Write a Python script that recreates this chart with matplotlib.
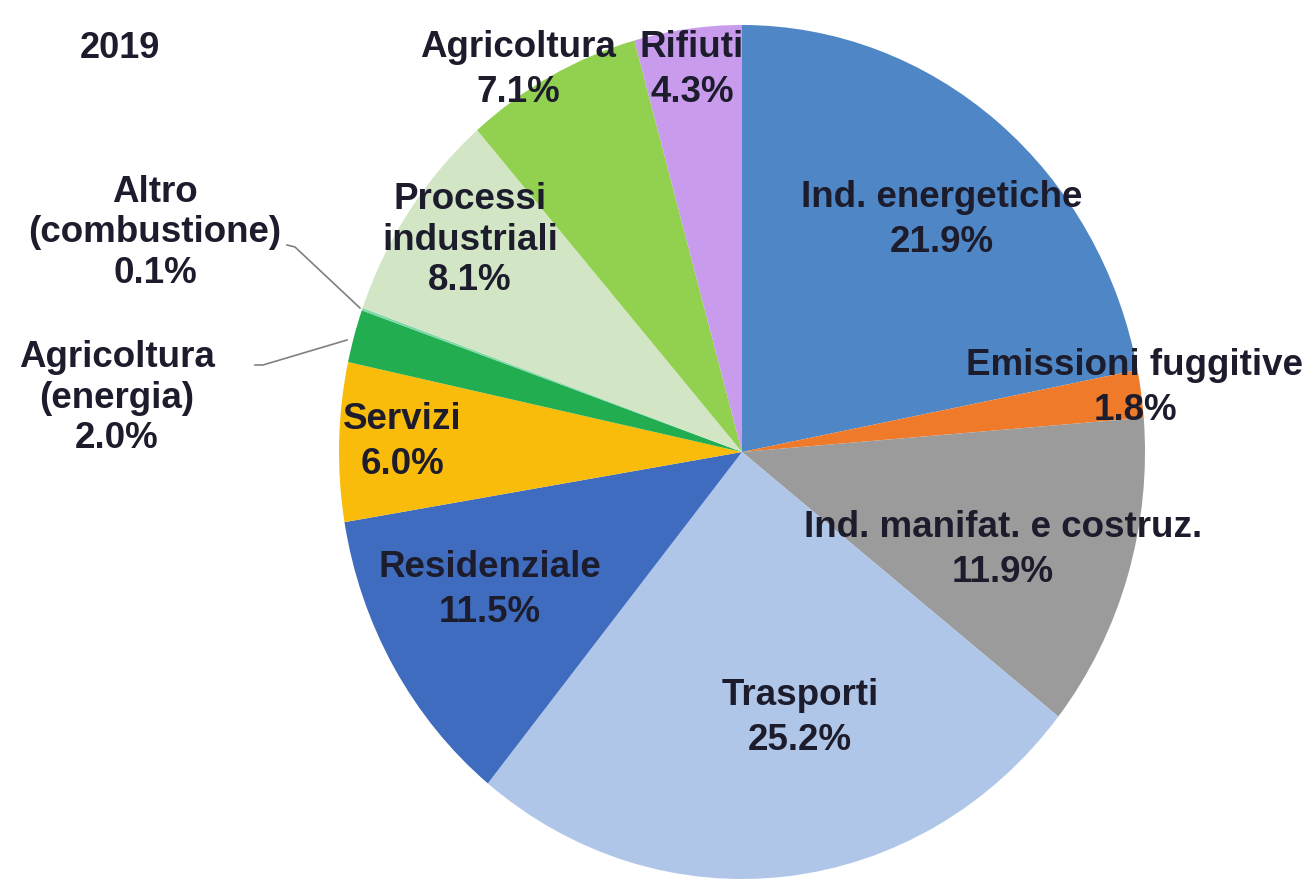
import matplotlib
matplotlib.use("Agg")
import matplotlib.pyplot as plt

# ---- data ----
names = ["Ind. energetiche", "Emissioni fuggitive", "Ind. manifat. e costruz.",
         "Trasporti", "Residenziale", "Servizi", "Agricoltura\n(energia)",
         "Altro\n(combustione)", "Processi\nindustriali", "Agricoltura", "Rifiuti"]
values = [21.9, 1.8, 11.9, 25.2, 11.5, 6.0, 2.0, 0.1, 8.1, 7.1, 4.3]
colors = ["#4F87C6", "#EE7A2A", "#9B9B9B", "#B0C6E8", "#3F6CBE", "#FABC0A",
          "#22AE50", "#7FD8A8", "#D2E6C6", "#92D050", "#C99BEC"]
title = "2019"

# ---- layout (pixel geometry of the reference) ----
W, H = 1316, 882
cx, cy, rx, ry = 742, 452, 403, 427

def to_data(px, py):
    return (px - cx) / rx, (cy - py) / ry

label_px = [(942, 220), (1135, 388), (1003, 550), (800, 718), (490, 590),
            (402, 442), (117, 398), (155, 233), (470, 240), (518, 70), (692, 70)]

plt.rcParams['font.family'] = ['Liberation Sans', 'DejaVu Sans']
fig = plt.figure(figsize=(W / 100, H / 100), dpi=100)
ax = fig.add_axes([0, 0, 1, 1])

ax.pie(values, colors=colors, startangle=90, counterclock=False, radius=1,
       wedgeprops=dict(linewidth=0))
ax.set_aspect('auto')
ax.set_xlim(to_data(0, 0)[0], to_data(W, 0)[0])
ax.set_ylim(to_data(0, H)[1], to_data(0, 0)[1])
ax.axis('off')

txtcol = "#1C1C2C"
for n, v, (px, py) in zip(names, values, label_px):
    x, y = to_data(px, py)
    ls = 1.35 if n.count("\n") == 0 else 1.22
    ax.text(x, y, f"{n}\n{v:.1f}%", ha='center', va='center', fontsize=26.5,
            fontweight='bold', color=txtcol, linespacing=ls)

x, y = to_data(120, 48)
ax.text(x, y, title, ha='center', va='center', fontsize=26, fontweight='bold', color=txtcol)

# leader lines
for pts in ([(287, 245), (295, 247), (360, 308)], [(255, 365), (263, 365), (347, 340)]):
    xs, ys = zip(*[to_data(a, b) for a, b in pts])
    ax.plot(xs, ys, color="#808080", lw=1.2)

fig.savefig("out.png", dpi=100)
